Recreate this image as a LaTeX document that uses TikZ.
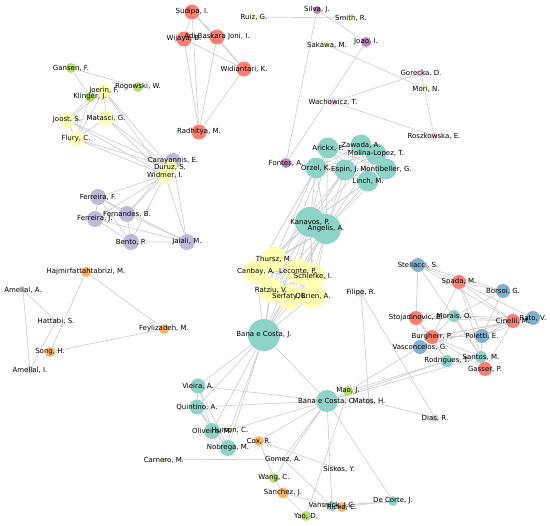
\documentclass[tikz,border=0pt]{standalone}
\usepackage{fontspec}
\setmainfont{DejaVu Sans}
\definecolor{cteal}{HTML}{8DD3C7}
\definecolor{cyellow}{HTML}{FFFFB3}
\definecolor{clav}{HTML}{BEBADA}
\definecolor{cred}{HTML}{FB8072}
\definecolor{cblue}{HTML}{80B1D3}
\definecolor{corange}{HTML}{FDB462}
\definecolor{cgreen}{HTML}{B3DE69}
\definecolor{cpink}{HTML}{FCCDE5}
\definecolor{cgray}{HTML}{D9D9D9}
\definecolor{cpurple}{HTML}{BC80BD}
\definecolor{edgegray}{HTML}{CFCFCF}
\pgfdeclarelayer{edges}
\pgfsetlayers{edges,main}

\begin{document}
\begin{tikzpicture}[x=1pt,y=-1pt,
    au/.style={circle,inner sep=0pt,minimum size=#1},
    lbl/.style={font=\fontsize{7}{8}\selectfont,inner sep=0pt},
    edge/.style={draw=edgegray,line width=0.7pt}]
    \useasboundingbox (0,0) rectangle (550,526);

    % Autoren oben rechts
    \node[au=15pt,fill=cred] (sudipa) at (192,12) {};
    \node[au=15pt,fill=cred] (wijaya) at (184,39) {};
    \node[au=15pt,fill=cred] (adi) at (217,37) {};
    \node[au=15pt,fill=cred] (widiantari) at (244,69) {};
    \node[au=15pt,fill=cred] (radhitya) at (199,132) {};
    \node[au=6pt,fill=cyellow] (ruiz) at (254,17) {};
    \node[au=8pt,fill=cpurple] (silva) at (317,10) {};
    \node[au=6pt,fill=cyellow] (smith) at (351,18) {};
    \node[au=10pt,fill=cpurple] (joao) at (366,42) {};
    \node[au=6pt,fill=cyellow] (sakawa) at (327,45) {};
    \node[au=9pt,fill=cpink] (gorecka) at (421,73) {};
    \node[au=6pt,fill=cyellow] (mori) at (426,89) {};
    \node[au=8pt,fill=cpink] (wachowicz) at (333,102) {};
    \node[au=8pt,fill=cpink] (roszkowska) at (434,136) {};
    \node[au=10pt,fill=cpurple] (fontes) at (286,163) {};

    % Gruppe links oben
    \node[au=10pt,fill=cgreen] (gansen) at (71,68) {};
    \node[au=10pt,fill=cgreen] (rogowski) at (138,87) {};
    \node[au=15pt,fill=cyellow] (joerin) at (104,91) {};
    \node[au=10pt,fill=cgreen] (klinger) at (90,97) {};
    \node[au=15pt,fill=cyellow] (joost) at (67,120) {};
    \node[au=15pt,fill=cyellow] (matasci) at (106,118) {};
    \node[au=15pt,fill=cyellow] (flury) at (76,139) {};
    \node[au=16pt,fill=clav] (carayannis) at (173,161) {};
    \node[au=14pt,fill=cyellow] (duruz) at (170,167) {};
    \node[au=16pt,fill=cyellow] (widmer) at (165,175) {};
    \node[au=16pt,fill=clav] (ferreiraf) at (98,197) {};
    \node[au=16pt,fill=clav] (fernandes) at (127,214) {};
    \node[au=16pt,fill=clav] (ferreiraj) at (95,219) {};
    \node[au=16pt,fill=clav] (bento) at (131,242) {};
    \node[au=16pt,fill=clav] (jalali) at (187,242) {};

    % Gruppe links unten
    \node[au=10pt,fill=corange] (hajmir) at (86,272) {};
    \node[au=5pt,fill=cgray] (amellala) at (23,290) {};
    \node[au=5pt,fill=cgray] (hattabi) at (56,321) {};
    \node[au=10pt,fill=corange] (feylizadeh) at (164,329) {};
    \node[au=10pt,fill=corange] (song) at (50,352) {};
    \node[au=8pt,fill=cgray] (amellali) at (30,370) {};

    % Mitte
    \node[au=21pt,fill=cteal] (arickx) at (328,148) {};
    \node[au=21pt,fill=cteal] (zawada) at (361,145) {};
    \node[au=21pt,fill=cteal] (molina) at (376,154) {};
    \node[au=21pt,fill=cteal] (orzel) at (316,168) {};
    \node[au=21pt,fill=cteal] (espin) at (345,170) {};
    \node[au=21pt,fill=cteal] (montibeller) at (386,169) {};
    \node[au=21pt,fill=cteal] (linch) at (368,181) {};
    \node[au=30pt,fill=cteal] (kanavos) at (310,222) {};
    \node[au=30pt,fill=cteal] (angelis) at (326,229) {};
    \node[au=25pt,fill=cyellow] (thursz) at (274,259) {};
    \node[au=25pt,fill=cyellow] (canbay) at (256,272) {};
    \node[au=25pt,fill=cyellow] (leconte) at (298,271) {};
    \node[au=25pt,fill=cyellow] (schiefke) at (313,276) {};
    \node[au=25pt,fill=cyellow] (ratziu) at (271,290) {};
    \node[au=25pt,fill=cyellow] (serfaty) at (290,297) {};
    \node[au=25pt,fill=cyellow] (obrien) at (313,296) {};
    \node[au=32pt,fill=cteal] (bcj) at (264,335) {};
    \node[au=8pt,fill=cgray] (filipe) at (361,293) {};

    % Gruppe rechts unten
    \node[au=14pt,fill=cblue] (stellacci) at (418,265) {};
    \node[au=14pt,fill=cred] (spada) at (459,282) {};
    \node[au=14pt,fill=cblue] (borsoi) at (503,291) {};
    \node[au=14pt,fill=cred] (stojadinovic) at (416,318) {};
    \node[au=12pt,fill=cteal] (morais) at (454,316) {};
    \node[au=14pt,fill=cblue] (rato) at (533,318) {};
    \node[au=14pt,fill=cred] (cinelli) at (513,321) {};
    \node[au=14pt,fill=cblue] (vasconcelos) at (420,347) {};
    \node[au=14pt,fill=cred] (burgherr) at (432,337) {};
    \node[au=14pt,fill=cblue] (poletti) at (482,336) {};
    \node[au=12pt,fill=cteal] (rodrigues) at (447,361) {};
    \node[au=12pt,fill=cteal] (santos) at (481,357) {};
    \node[au=14pt,fill=cred] (gasser) at (485,369) {};

    % Gruppe unten
    \node[au=15pt,fill=cteal] (vieira) at (198,386) {};
    \node[au=15pt,fill=cteal] (quintino) at (197,407) {};
    \node[au=16pt,fill=cteal] (oliveira) at (212,431) {};
    \node[au=5pt,fill=cgreen] (hurson) at (230,430) {};
    \node[au=16pt,fill=cteal] (nobrega) at (228,448) {};
    \node[au=10pt,fill=corange] (cox) at (259,441) {};
    \node[au=4pt,fill=cgreen] (carnero) at (164,460) {};
    \node[au=4pt,fill=cgray] (gomez) at (283,459) {};
    \node[au=10pt,fill=cgreen] (wang) at (274,478) {};
    \node[au=11pt,fill=corange] (sanchez) at (283,493) {};
    \node[au=10pt,fill=cgreen] (yao) at (306,516) {};
    \node[au=10pt,fill=cteal] (vansnick) at (332,506) {};
    \node[au=10pt,fill=corange] (ricke) at (342,507) {};
    \node[au=4pt,fill=cgray] (siskos) at (339,469) {};
    \node[au=10pt,fill=cteal] (decorte) at (393,501) {};
    \node[au=22pt,fill=cteal] (bcc) at (327,401) {};
    \node[au=10pt,fill=cgreen] (mao) at (348,391) {};
    \node[au=8pt,fill=cgray] (matos) at (369,401) {};
    \node[au=8pt,fill=cgray] (dias) at (435,418) {};

    \begin{pgfonlayer}{edges}
    % oben
    \draw[edge] (sudipa) -- (adi) (sudipa) -- (wijaya) (sudipa) -- (widiantari) (sudipa) -- (radhitya);
    \draw[edge] (adi) -- (wijaya) (adi) -- (widiantari) (adi) -- (radhitya);
    \draw[edge] (wijaya) -- (widiantari) (wijaya) -- (radhitya) (widiantari) -- (radhitya);
    \draw[edge] (ruiz) -- (smith) (silva) -- (joao) (silva) -- (fontes) (joao) -- (fontes);
    \draw[edge] (sakawa) -- (mori) (wachowicz) -- (gorecka) (wachowicz) -- (roszkowska) (gorecka) -- (roszkowska);

    % links oben
    \draw[edge] (gansen) -- (rogowski) (gansen) -- (klinger) (klinger) -- (joerin) (klinger) -- (joost) (klinger) -- (flury);
    \draw[edge] (joerin) -- (joost) (joerin) -- (matasci) (joerin) -- (flury) (joost) -- (matasci) (joost) -- (flury) (matasci) -- (flury);
    \draw[edge] (joerin) -- (duruz) (joerin) -- (widmer) (joost) -- (duruz) (joost) -- (widmer);
    \draw[edge] (matasci) -- (duruz) (matasci) -- (widmer) (flury) -- (duruz) (flury) -- (widmer);
    \draw[edge] (carayannis) -- (widmer) (duruz) -- (widmer) (carayannis) -- (fernandes) (carayannis) -- (jalali);
    \draw[edge] (widmer) -- (ferreiraf) (widmer) -- (fernandes) (widmer) -- (ferreiraj) (widmer) -- (bento) (widmer) -- (jalali);
    \draw[edge] (ferreiraf) -- (ferreiraj) (ferreiraf) -- (fernandes) (ferreiraf) -- (bento) (ferreiraf) -- (jalali);
    \draw[edge] (fernandes) -- (ferreiraj) (fernandes) -- (bento) (fernandes) -- (jalali);
    \draw[edge] (ferreiraj) -- (bento) (ferreiraj) -- (jalali) (bento) -- (jalali);

    % links unten
    \draw[edge] (hajmir) -- (feylizadeh) (hajmir) -- (song) (feylizadeh) -- (song);
    \draw[edge] (amellala) -- (hattabi) (amellala) -- (amellali) (hattabi) -- (amellali);

    % Mitte
    \draw[edge] (arickx) -- (zawada) (arickx) -- (molina) (arickx) -- (orzel) (arickx) -- (espin) (arickx) -- (montibeller) (arickx) -- (linch);
    \draw[edge] (zawada) -- (molina) (zawada) -- (orzel) (zawada) -- (espin) (zawada) -- (montibeller) (zawada) -- (linch);
    \draw[edge] (molina) -- (orzel) (molina) -- (espin) (molina) -- (montibeller) (molina) -- (linch);
    \draw[edge] (orzel) -- (espin) (orzel) -- (montibeller) (orzel) -- (linch);
    \draw[edge] (espin) -- (montibeller) (espin) -- (linch) (montibeller) -- (linch);
    \draw[edge] (kanavos) -- (arickx) (kanavos) -- (zawada) (kanavos) -- (molina) (kanavos) -- (orzel) (kanavos) -- (espin) (kanavos) -- (montibeller) (kanavos) -- (linch);
    \draw[edge] (angelis) -- (arickx) (angelis) -- (zawada) (angelis) -- (molina) (angelis) -- (orzel) (angelis) -- (espin) (angelis) -- (montibeller) (angelis) -- (linch);
    \draw[edge] (orzel) -- (thursz) (orzel) -- (canbay) (arickx) -- (canbay) (espin) -- (thursz) (arickx) -- (ratziu);
    \draw[edge] (kanavos) -- (angelis) (kanavos) -- (bcj) (angelis) -- (bcj);
    \draw[edge] (kanavos) -- (thursz) (kanavos) -- (canbay) (kanavos) -- (leconte) (kanavos) -- (schiefke) (kanavos) -- (ratziu) (kanavos) -- (serfaty) (kanavos) -- (obrien);
    \draw[edge] (angelis) -- (thursz) (angelis) -- (canbay) (angelis) -- (leconte) (angelis) -- (schiefke) (angelis) -- (ratziu) (angelis) -- (serfaty) (angelis) -- (obrien);
    \draw[edge] (thursz) -- (canbay) (thursz) -- (leconte) (thursz) -- (schiefke) (thursz) -- (ratziu) (thursz) -- (serfaty) (thursz) -- (obrien);
    \draw[edge] (canbay) -- (leconte) (canbay) -- (schiefke) (canbay) -- (ratziu) (canbay) -- (serfaty) (canbay) -- (obrien);
    \draw[edge] (leconte) -- (schiefke) (leconte) -- (ratziu) (leconte) -- (serfaty) (leconte) -- (obrien);
    \draw[edge] (schiefke) -- (ratziu) (schiefke) -- (serfaty) (schiefke) -- (obrien);
    \draw[edge] (ratziu) -- (serfaty) (ratziu) -- (obrien) (serfaty) -- (obrien);
    \draw[edge] (bcj) -- (thursz) (bcj) -- (canbay) (bcj) -- (leconte) (bcj) -- (schiefke) (bcj) -- (ratziu) (bcj) -- (serfaty) (bcj) -- (obrien);

    % unten
    \draw[edge] (bcj) -- (vieira) (bcj) -- (quintino) (bcj) -- (oliveira) (bcj) -- (nobrega) (bcj) -- (hurson) (bcj) -- (bcc);
    \draw[edge] (bcc) -- (vieira) (bcc) -- (quintino) (bcc) -- (hurson) (bcc) -- (cox) (bcc) -- (mao) (bcc) -- (matos);
    \draw[edge] (bcc) -- (gomez) (bcc) -- (wang) (bcc) -- (vansnick) (bcc) -- (decorte) (bcc) -- (rodrigues) (bcc) -- (santos);
    \draw[edge] (mao) -- (vasconcelos) (mao) -- (rodrigues) (mao) -- (yao);
    \draw[edge] (vieira) -- (quintino) (vieira) -- (oliveira) (vieira) -- (nobrega) (quintino) -- (oliveira) (quintino) -- (nobrega);
    \draw[edge] (oliveira) -- (nobrega) (hurson) -- (oliveira) (hurson) -- (nobrega) (nobrega) -- (cox);
    \draw[edge] (cox) -- (wang) (cox) -- (siskos) (carnero) -- (gomez) (gomez) -- (vansnick);
    \draw[edge] (wang) -- (sanchez) (sanchez) -- (yao) (sanchez) -- (vansnick) (vansnick) -- (decorte) (ricke) -- (decorte);
    \draw[edge] (filipe) -- (matos) (filipe) -- (dias) (matos) -- (dias);

    % rechts unten
    \draw[edge] (stellacci) -- (spada) (stellacci) -- (borsoi) (stellacci) -- (stojadinovic) (stellacci) -- (cinelli) (stellacci) -- (santos);
    \draw[edge] (spada) -- (borsoi) (spada) -- (rato) (spada) -- (cinelli) (spada) -- (burgherr) (spada) -- (poletti) (spada) -- (santos);
    \draw[edge] (borsoi) -- (morais) (borsoi) -- (poletti) (morais) -- (rato) (morais) -- (cinelli) (morais) -- (stojadinovic);
    \draw[edge] (morais) -- (burgherr) (morais) -- (santos) (stojadinovic) -- (burgherr) (stojadinovic) -- (vasconcelos);
    \draw[edge] (stojadinovic) -- (cinelli) (stojadinovic) -- (rodrigues) (burgherr) -- (cinelli) (burgherr) -- (poletti);
    \draw[edge] (burgherr) -- (rodrigues) (burgherr) -- (santos) (burgherr) -- (gasser) (burgherr) -- (rato);
    \draw[edge] (vasconcelos) -- (cinelli) (poletti) -- (cinelli) (poletti) -- (rato) (poletti) -- (santos);
    \draw[edge] (cinelli) -- (gasser) (cinelli) -- (rato) (rodrigues) -- (santos) (santos) -- (gasser);
    \end{pgfonlayer}

    % Namen
    \node[lbl] (sudipa-t) at (sudipa) {Sudipa, I.};
    \node[lbl] (wijaya-t) at (wijaya) {Wijaya, B.};
    \node[lbl] (adi-t) at (adi) {Adi Baskara Joni, I.};
    \node[lbl] (widiantari-t) at (widiantari) {Widiantari, K.};
    \node[lbl] (radhitya-t) at (radhitya) {Radhitya, M.};
    \node[lbl] (ruiz-t) at (ruiz) {Ruiz, G.};
    \node[lbl] (silva-t) at (silva) {Silva, J.};
    \node[lbl] (smith-t) at (smith) {Smith, R.};
    \node[lbl] (joao-t) at (joao) {Joao, I.};
    \node[lbl] (sakawa-t) at (sakawa) {Sakawa, M.};
    \node[lbl] (gorecka-t) at (gorecka) {Gorecka, D.};
    \node[lbl] (mori-t) at (mori) {Mori, N.};
    \node[lbl] (wachowicz-t) at (wachowicz) {Wachowicz, T.};
    \node[lbl] (roszkowska-t) at (roszkowska) {Roszkowska, E.};
    \node[lbl] (fontes-t) at (fontes) {Fontes, A.};
    \node[lbl] (gansen-t) at (gansen) {Gansen, F.};
    \node[lbl] (rogowski-t) at (rogowski) {Rogowski, W.};
    \node[lbl] (joerin-t) at (joerin) {Joerin, F.};
    \node[lbl] (klinger-t) at (klinger) {Klinger, J.};
    \node[lbl] (joost-t) at (joost) {Joost, S.};
    \node[lbl] (matasci-t) at (matasci) {Matasci, G.};
    \node[lbl] (flury-t) at (flury) {Flury, C.};
    \node[lbl] (carayannis-t) at (carayannis) {Carayannis, E.};
    \node[lbl] (duruz-t) at (duruz) {Duruz, S.};
    \node[lbl] (widmer-t) at (widmer) {Widmer, I.};
    \node[lbl] (ferreiraf-t) at (ferreiraf) {Ferreira, F.};
    \node[lbl] (fernandes-t) at (fernandes) {Fernandes, B.};
    \node[lbl] (ferreiraj-t) at (ferreiraj) {Ferreira, J.};
    \node[lbl] (bento-t) at (bento) {Bento, P.};
    \node[lbl] (jalali-t) at (jalali) {Jalali, M.};
    \node[lbl] (hajmir-t) at (hajmir) {Hajmirfattahtabrizi, M.};
    \node[lbl] (amellala-t) at (amellala) {Amellal, A.};
    \node[lbl] (hattabi-t) at (hattabi) {Hattabi, S.};
    \node[lbl] (feylizadeh-t) at (feylizadeh) {Feylizadeh, M.};
    \node[lbl] (song-t) at (song) {Song, H.};
    \node[lbl] (amellali-t) at (amellali) {Amellal, I.};
    \node[lbl] (arickx-t) at (arickx) {Arickx, F.};
    \node[lbl] (zawada-t) at (zawada) {Zawada, A.};
    \node[lbl] (molina-t) at (molina) {Molina-Lopez, T.};
    \node[lbl] (orzel-t) at (orzel) {Orzel, K.};
    \node[lbl] (espin-t) at (espin) {Espin, J.};
    \node[lbl] (montibeller-t) at (montibeller) {Montibeller, G.};
    \node[lbl] (linch-t) at (linch) {Linch, M.};
    \node[lbl] (kanavos-t) at (kanavos) {Kanavos, P.};
    \node[lbl] (angelis-t) at (angelis) {Angelis, A.};
    \node[lbl] (thursz-t) at (thursz) {Thursz, M.};
    \node[lbl] (canbay-t) at (canbay) {Canbay, A.};
    \node[lbl] (leconte-t) at (leconte) {Leconte, P.};
    \node[lbl] (schiefke-t) at (schiefke) {Schiefke, I.};
    \node[lbl] (ratziu-t) at (ratziu) {Ratziu, V.};
    \node[lbl] (serfaty-t) at (serfaty) {Serfaty, L.};
    \node[lbl] (obrien-t) at (obrien) {OBrien, A.};
    \node[lbl] (bcj-t) at (bcj) {Bana e Costa, J.};
    \node[lbl] (filipe-t) at (filipe) {Filipe, R.};
    \node[lbl] (stellacci-t) at (stellacci) {Stellacci, S.};
    \node[lbl] (spada-t) at (spada) {Spada, M.};
    \node[lbl] (borsoi-t) at (borsoi) {Borsoi, G.};
    \node[lbl] (stojadinovic-t) at (stojadinovic) {Stojadinovic, B.};
    \node[lbl] (morais-t) at (morais) {Morais, O.};
    \node[lbl] (cinelli-t) at (cinelli) {Cinelli, M.};
    \node[lbl] (rato-t) at (rato) {Rato, V.};
    \node[lbl] (burgherr-t) at (burgherr) {Burgherr, P.};
    \node[lbl] (poletti-t) at (poletti) {Poletti, E.};
    \node[lbl] (vasconcelos-t) at (vasconcelos) {Vasconcelos, G.};
    \node[lbl] (rodrigues-t) at (rodrigues) {Rodrigues, T.};
    \node[lbl] (santos-t) at (santos) {Santos, M.};
    \node[lbl] (gasser-t) at (gasser) {Gasser, P.};
    \node[lbl] (vieira-t) at (vieira) {Vieira, A.};
    \node[lbl] (quintino-t) at (quintino) {Quintino, A.};
    \node[lbl] (oliveira-t) at (oliveira) {Oliveira, M.};
    \node[lbl] (hurson-t) at (hurson) {Hurson, C.};
    \node[lbl] (nobrega-t) at (nobrega) {Nobrega, M.};
    \node[lbl] (cox-t) at (cox) {Cox, R.};
    \node[lbl] (carnero-t) at (carnero) {Carnero, M.};
    \node[lbl] (gomez-t) at (gomez) {Gomez, A.};
    \node[lbl] (wang-t) at (wang) {Wang, C.};
    \node[lbl] (sanchez-t) at (sanchez) {Sanchez, J.};
    \node[lbl] (yao-t) at (yao) {Yao, D.};
    \node[lbl] (vansnick-t) at (vansnick) {Vansnick, J.C.};
    \node[lbl] (ricke-t) at (ricke) {Ricke, C.};
    \node[lbl] (siskos-t) at (siskos) {Siskos, Y.};
    \node[lbl] (decorte-t) at (decorte) {De Corte, J.};
    \node[lbl] (bcc-t) at (bcc) {Bana e Costa, C.};
    \node[lbl] (mao-t) at (mao) {Mao, J.};
    \node[lbl] (matos-t) at (matos) {Matos, H.};
    \node[lbl] (dias-t) at (dias) {Dias, R.};
\end{tikzpicture}
\end{document}
